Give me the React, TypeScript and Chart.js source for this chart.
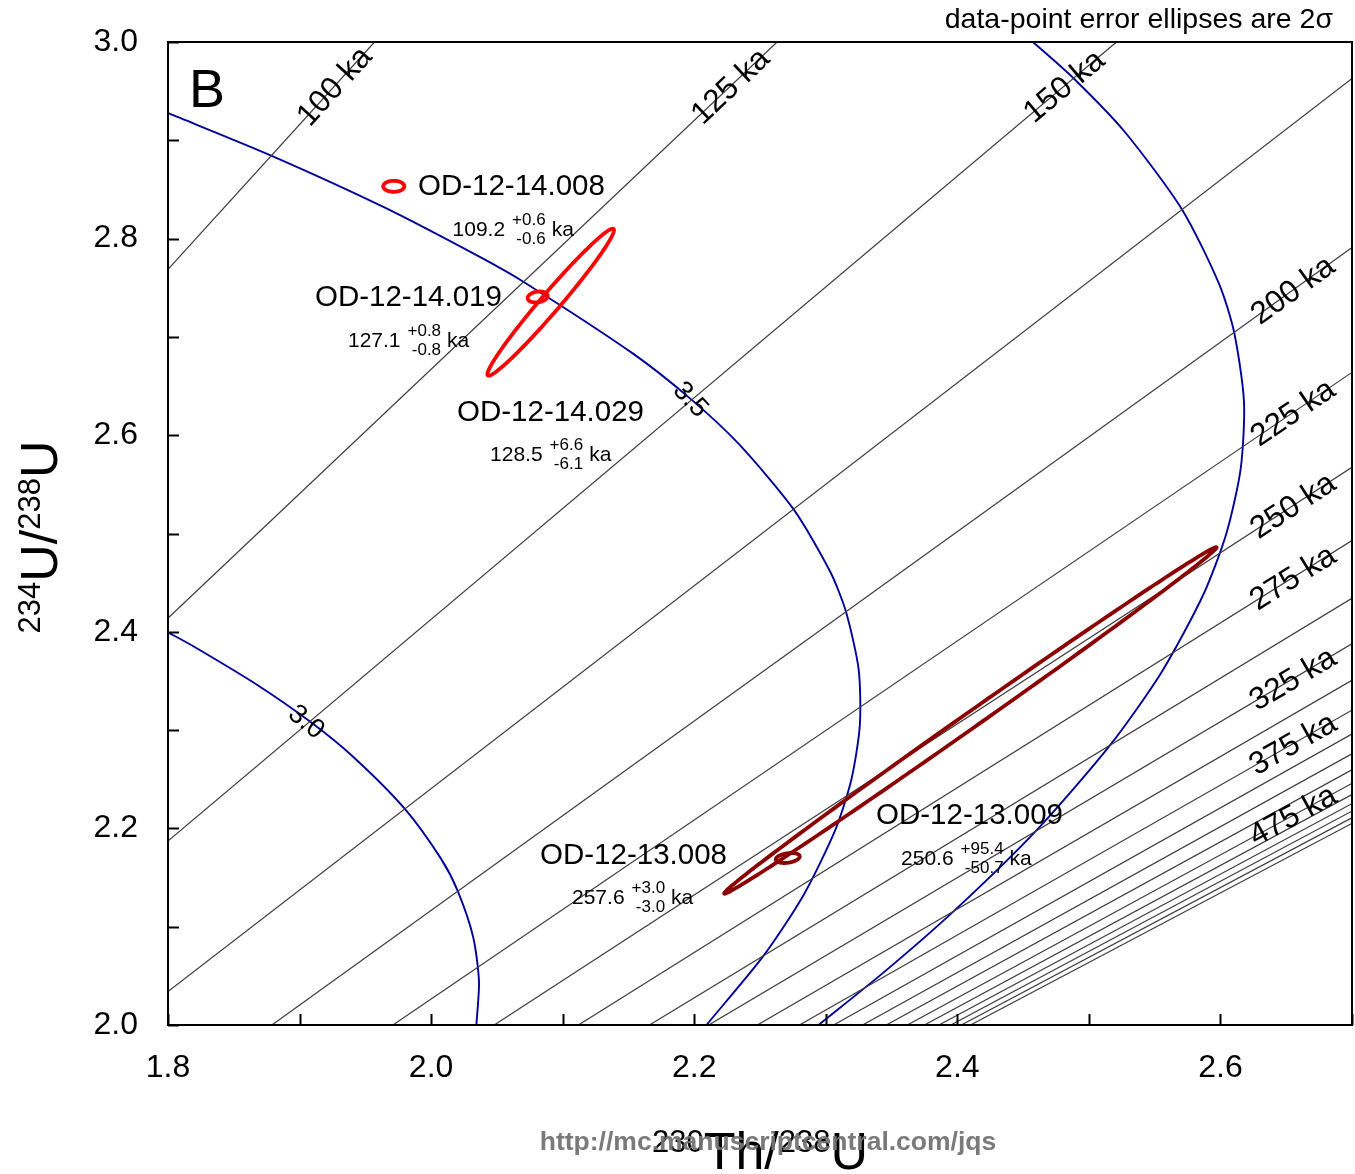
import React, { useEffect, useRef } from "react";
import { Chart, registerables } from "chart.js";

Chart.register(...registerables);

const FONT = '"Liberation Sans", Arial, Helvetica, sans-serif';

// ---------------- data ----------------
// axis ranges
const xRange = [1.8, 2.7];
const yRange = [2.0, 3.0];

// isochrons (ka): 230Th/238U where each line meets 234U/238U = 2.0 and 3.0
const isochronAges = [100, 125, 150, 175, 200, 225, 250, 275, 300, 325, 350, 375, 400, 425, 450, 475, 500, 525, 550, 575, 600];
const isochronUU = [2.0, 3.0];
const isochronThUAtLow = [1.278, 1.473, 1.634, 1.767, 1.879, 1.971, 2.048, 2.112, 2.166, 2.211, 2.248, 2.28, 2.306, 2.328, 2.346, 2.362, 2.375, 2.386, 2.395, 2.403, 2.41];
const isochronThUAtHigh = [1.957, 2.263, 2.521, 2.736, 2.917, 3.069, 3.197, 3.305, 3.396, 3.472, 3.537, 3.591, 3.637, 3.676, 3.709, 3.737, 3.761, 3.78, 3.797, 3.812, 3.824];
const labelledTop = [100, 125, 150];
const labelledRight = [200, 225, 250, 275, 325, 375, 475];

// initial 234U/238U evolution curves
const init30ThU = [1.8, 1.8196, 1.8673, 1.9077, 1.9411, 1.9802, 2.0076, 2.0202, 2.032, 2.0364, 2.0344];
const init30UU = [2.3995, 2.385, 2.3464, 2.3089, 2.2724, 2.2196, 2.169, 2.1364, 2.0893, 2.044, 2.0];
const init35ThU = [1.8003, 1.8784, 1.9641, 2.0377, 2.0704, 2.1535, 2.1979, 2.2342, 2.2756, 2.3033, 2.3153, 2.325, 2.3259, 2.3195, 2.3074, 2.2835, 2.2529, 2.2093];
const init35UU = [2.9276, 2.8845, 2.832, 2.7809, 2.7559, 2.683, 2.6362, 2.5906, 2.5245, 2.4613, 2.4206, 2.3616, 2.3051, 2.25, 2.199, 2.1331, 2.0708, 2.0];
const init40ThU = [2.4575, 2.4881, 2.5272, 2.5709, 2.5991, 2.6104, 2.6179, 2.6154, 2.6045, 2.5873, 2.5556, 2.5163, 2.4596, 2.3971, 2.3447, 2.2945];
const init40UU = [3.0, 2.9634, 2.9087, 2.8294, 2.7535, 2.7047, 2.6339, 2.5661, 2.5, 2.4387, 2.3597, 2.285, 2.1973, 2.1156, 2.0543, 2.0];

// samples (2-sigma error ellipses)
const sampleNames = ["OD-12-14.008", "OD-12-14.019", "OD-12-14.029", "OD-12-13.008", "OD-12-13.009"];
const sampleGroup = ["OD-12-14", "OD-12-14", "OD-12-14", "OD-12-13", "OD-12-13"];
const sampleThU = [1.9716, 2.081, 2.0909, 2.2711, 2.4099];
const sampleUU = [2.8532, 2.7406, 2.7353, 2.1699, 2.3098];
const sampleErrThU = [0.008, 0.0076, 0.0481, 0.0091, 0.1872];
const sampleErrUU = [0.0056, 0.0056, 0.0748, 0.0051, 0.1763];
const sampleRho = [0.0, 0.2, 0.98, 0.3, 0.9985];
const sampleAge = ["109.2", "127.1", "128.5", "257.6", "250.6"];
const sampleAgePlus = ["+0.6", "+0.8", "+6.6", "+3.0", "+95.4"];
const sampleAgeMinus = ["-0.6", "-0.8", "-6.1", "-3.0", "-50.7"];

// ---------------- layout / style (not data) ----------------
const groupColor: Record<string, string> = { "OD-12-14": "#ff0000", "OD-12-13": "#8b0000" };
// anchor of sample name (left, middle) and age line (left, middle) in axis units
const nameAnchor = [
  [1.99, 2.8525],
  [1.9117, 2.7396],
  [2.0197, 2.6226],
  [2.0828, 2.1719],
  [2.3382, 2.2126],
];
const ageAnchor = [
  [2.0163, 2.8087],
  [1.9368, 2.6958],
  [2.0448, 2.5799],
  [2.1071, 2.1292],
  [2.3572, 2.1689],
];
const topLabelUU = 2.955;
const rightLabelThU = 2.655;
const curveLabels = [
  { text: "3.0", x: 1.905, y: 2.308, rot: 0.68 },
  { text: "3.5", x: 2.197, y: 2.636, rot: 0.82 },
];

function richText(ctx: CanvasRenderingContext2D, parts: { t: string; s: number; up: number }[], cx: number, baseY: number) {
  let total = 0;
  for (const p of parts) {
    ctx.font = `${p.s}px ${FONT}`;
    total += ctx.measureText(p.t).width;
  }
  let x = cx - total / 2;
  ctx.textAlign = "left";
  ctx.textBaseline = "alphabetic";
  for (const p of parts) {
    ctx.font = `${p.s}px ${FONT}`;
    ctx.fillText(p.t, x, baseY - p.up);
    x += ctx.measureText(p.t).width;
  }
}

const annotPlugin = {
  id: "annot",
  afterDatasetsDraw(chart: any) {
    const { ctx, chartArea: ca } = chart;
    const xs = chart.scales.x;
    const ys = chart.scales.y;
    const X = (v: number) => xs.getPixelForValue(v);
    const Y = (v: number) => ys.getPixelForValue(v);

    ctx.save();
    ctx.beginPath();
    ctx.rect(ca.left, ca.top, ca.right - ca.left, ca.bottom - ca.top);
    ctx.clip();

    // isochron labels
    ctx.fillStyle = "#000";
    ctx.font = `31.5px ${FONT}`;
    ctx.textAlign = "center";
    ctx.textBaseline = "middle";
    isochronAges.forEach((age, i) => {
      const x2 = isochronThUAtLow[i];
      const x3 = isochronThUAtHigh[i];
      let lx: number, ly: number;
      if (labelledTop.includes(age)) {
        ly = topLabelUU;
        lx = x2 + (x3 - x2) * (ly - isochronUU[0]);
      } else if (labelledRight.includes(age)) {
        lx = rightLabelThU;
        ly = isochronUU[0] + (lx - x2) / (x3 - x2);
      } else return;
      const ang = Math.atan2(Y(isochronUU[1]) - Y(isochronUU[0]), X(x3) - X(x2));
      ctx.save();
      ctx.translate(X(lx), Y(ly));
      ctx.rotate(ang);
      ctx.fillText(`${age} ka`, 0, 1);
      ctx.restore();
    });

    // initial-ratio curve labels
    ctx.font = `27px ${FONT}`;
    curveLabels.forEach((l) => {
      ctx.save();
      ctx.translate(X(l.x), Y(l.y));
      ctx.rotate(l.rot);
      ctx.fillText(l.text, 0, 0);
      ctx.restore();
    });

    // error ellipses
    sampleNames.forEach((_, i) => {
      const cx = sampleThU[i], cy = sampleUU[i];
      const sx = sampleErrThU[i], sy = sampleErrUU[i], r = sampleRho[i];
      const q = Math.sqrt(1 - r * r);
      ctx.beginPath();
      const n = 180;
      for (let k = 0; k <= n; k++) {
        const th = (k / n) * Math.PI * 2;
        const dx = sx * Math.cos(th);
        const dy = sy * (r * Math.cos(th) + q * Math.sin(th));
        const px = X(cx + dx), py = Y(cy + dy);
        if (k === 0) ctx.moveTo(px, py);
        else ctx.lineTo(px, py);
      }
      ctx.closePath();
      ctx.strokeStyle = groupColor[sampleGroup[i]];
      ctx.lineWidth = 3.8;
      ctx.lineJoin = "round";
      ctx.stroke();
    });

    // sample labels
    ctx.fillStyle = "#000";
    sampleNames.forEach((name, i) => {
      ctx.font = `29.5px ${FONT}`;
      ctx.textAlign = "left";
      ctx.textBaseline = "middle";
      ctx.fillText(name, X(nameAnchor[i][0]), Y(nameAnchor[i][1]));
      const ax = X(ageAnchor[i][0]);
      const ay = Y(ageAnchor[i][1]);
      ctx.font = `21px ${FONT}`;
      ctx.fillText(sampleAge[i], ax, ay);
      const w1 = ctx.measureText(sampleAge[i]).width;
      ctx.font = `17px ${FONT}`;
      const bw = Math.max(ctx.measureText(sampleAgePlus[i]).width, ctx.measureText(sampleAgeMinus[i]).width);
      const rgt = ax + w1 + 7 + bw;
      ctx.textAlign = "right";
      ctx.fillText(sampleAgePlus[i], rgt, ay - 10);
      ctx.fillText(sampleAgeMinus[i], rgt, ay + 9);
      ctx.textAlign = "left";
      ctx.font = `21px ${FONT}`;
      ctx.fillText("ka", rgt + 6, ay);
    });

    // panel letter
    ctx.font = `54px ${FONT}`;
    ctx.textAlign = "left";
    ctx.textBaseline = "alphabetic";
    ctx.fillText("B", ca.left + 21, ca.top + 65);
    ctx.restore();

    // frame
    ctx.save();
    ctx.strokeStyle = "#000";
    ctx.lineWidth = 2;
    ctx.strokeRect(ca.left, ca.top, ca.right - ca.left, ca.bottom - ca.top);
    ctx.beginPath();
    for (let k = Math.round(xRange[0] * 10); k <= Math.round(xRange[1] * 10); k++) {
      const p = Math.round(X(k / 10)) + 0.5;
      ctx.moveTo(p, ca.bottom);
      ctx.lineTo(p, ca.bottom - 11);
    }
    for (let k = Math.round(yRange[0] * 10); k <= Math.round(yRange[1] * 10); k++) {
      const p = Math.round(Y(k / 10)) + 0.5;
      ctx.moveTo(ca.left, p);
      ctx.lineTo(ca.left + 11, p);
    }
    ctx.stroke();
    ctx.restore();
  },
  afterDraw(chart: any) {
    const { ctx } = chart;
    ctx.save();
    ctx.fillStyle = "#000";
    ctx.font = `28.5px ${FONT}`;
    ctx.textAlign = "right";
    ctx.textBaseline = "middle";
    ctx.fillText("data-point error ellipses are 2\u03c3", 1333, 20);

    // y-axis title
    ctx.save();
    ctx.translate(57, 537);
    ctx.rotate(-Math.PI / 2);
    richText(ctx, [
      { t: "234", s: 31, up: 17 },
      { t: "U/", s: 52, up: 0 },
      { t: "238", s: 31, up: 17 },
      { t: "U", s: 52, up: 0 },
    ], 0, 0);
    ctx.restore();

    // x-axis title
    richText(ctx, [
      { t: "230", s: 31, up: 17 },
      { t: "Th/", s: 52, up: 0 },
      { t: "238", s: 31, up: 17 },
      { t: "U", s: 52, up: 0 },
    ], 760, 1169);

    // watermark
    ctx.font = `bold 26.5px ${FONT}`;
    ctx.fillStyle = "rgba(115,115,115,0.95)";
    ctx.textAlign = "center";
    ctx.textBaseline = "middle";
    ctx.fillText("http://mc.manuscriptcentral.com/jqs", 768, 1143);
    ctx.restore();
  },
};

export default function App() {
  const ref = useRef<HTMLCanvasElement>(null);
  useEffect(() => {
    document.body.style.margin = "0";
    const datasets: any[] = [];
    isochronAges.forEach((age, i) => {
      datasets.push({
        label: `${age} ka`,
        data: [
          { x: isochronThUAtLow[i], y: isochronUU[0] },
          { x: isochronThUAtHigh[i], y: isochronUU[1] },
        ],
        borderColor: "#3c3c3c",
        borderWidth: 1.2,
        pointRadius: 0,
        showLine: true,
        tension: 0,
      });
    });
    const curves = [
      { name: "3.0", xs: init30ThU, ys: init30UU },
      { name: "3.5", xs: init35ThU, ys: init35UU },
      { name: "4.0", xs: init40ThU, ys: init40UU },
    ];
    curves.forEach((c) => {
      datasets.push({
        label: `initial ${c.name}`,
        data: c.xs.map((x, k) => ({ x, y: c.ys[k] })),
        borderColor: "#000099",
        borderWidth: 1.9,
        pointRadius: 0,
        showLine: true,
        tension: 0.25,
      });
    });

    const tickCb = (v: any) => {
      const k = Math.round(Number(v) * 10);
      return k % 2 === 0 ? (k / 10).toFixed(1) : "";
    };

    const chart = new Chart(ref.current as HTMLCanvasElement, {
      type: "scatter",
      data: { datasets },
      options: {
        animation: false,
        responsive: false,
        devicePixelRatio: 1,
        layout: { padding: { top: 42, right: 3, left: 0, bottom: 0 } },
        plugins: {
          legend: { display: false },
          tooltip: { enabled: false },
        },
        scales: {
          x: {
            type: "linear",
            min: xRange[0],
            max: xRange[1],
            grid: { display: false, drawTicks: false },
            border: { display: false },
            ticks: {
              stepSize: 0.1,
              autoSkip: false,
              maxRotation: 0,
              padding: 24,
              color: "#000",
              font: { family: FONT, size: 32 },
              callback: tickCb,
            },
            afterFit: (s: any) => {
              s.height = 149;
              s.paddingLeft = 0;
              s.paddingRight = 0;
              s.paddingTop = 0;
              s.paddingBottom = 0;
            },
          },
          y: {
            type: "linear",
            min: yRange[0],
            max: yRange[1],
            grid: { display: false, drawTicks: false },
            border: { display: false },
            ticks: {
              stepSize: 0.1,
              autoSkip: false,
              padding: 30,
              color: "#000",
              font: { family: FONT, size: 32 },
              callback: tickCb,
            },
            afterFit: (s: any) => {
              s.width = 168;
              s.paddingLeft = 0;
              s.paddingRight = 0;
              s.paddingTop = 0;
              s.paddingBottom = 0;
            },
          },
        },
      } as any,
      plugins: [annotPlugin],
    });
    return () => chart.destroy();
  }, []);

  return (
    <div style={{ position: "relative", width: 1355, height: 1174, background: "#fff", overflow: "hidden" }}>
      <canvas ref={ref} width={1355} height={1174} style={{ display: "block" }} />
    </div>
  );
}
